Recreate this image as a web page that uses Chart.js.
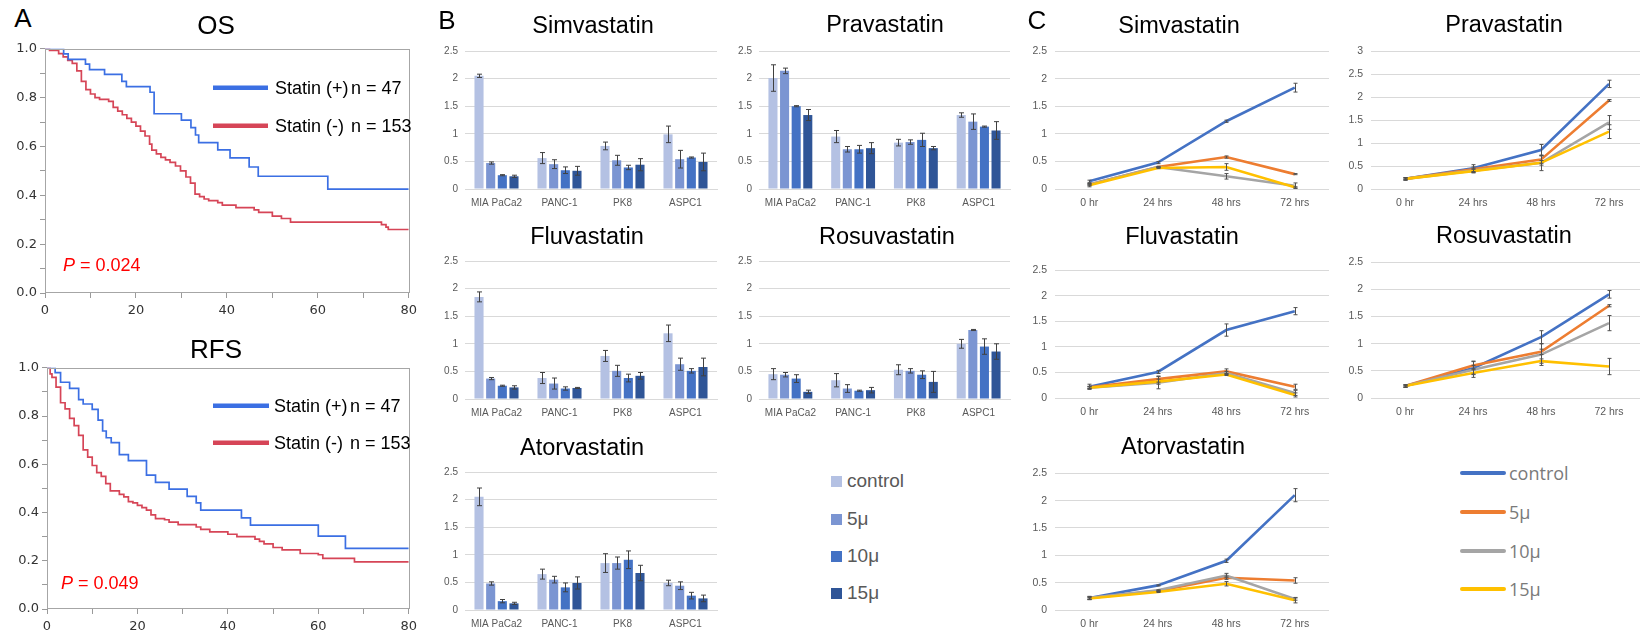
<!DOCTYPE html>
<html>
<head>
<meta charset="utf-8">
<script src="https://cdn.jsdelivr.net/npm/chart.js@4.4.1/dist/chart.umd.min.js"></script>
<style>
  html, body { margin: 0; padding: 0; background: #fff; }
  body { width: 1640px; height: 635px; position: relative; overflow: hidden; font-family: "Liberation Sans", Arial, sans-serif; }
  .box { position: absolute; }
  .txt { position: absolute; white-space: nowrap; color: #000; }
  .legend-row { position: absolute; white-space: nowrap; display: flex; align-items: center; }
</style>
</head>
<body>
<script>
// ---------- data ----------
const cellLines = ['MIA PaCa2', 'PANC-1', 'PK8', 'ASPC1'];
const timePoints = ['0 hr', '24 hrs', '48 hrs', '72 hrs'];
const doses = ['control', '5μ', '10μ', '15μ'];
const barColors = ['#b4c1e3', '#7b95d2', '#4472c4', '#2f5597'];
const lineColors = ['#4472c4', '#ed7d31', '#a5a5a5', '#ffc000'];

// Kaplan-Meier (A)
const kmGroups = ['Statin (+)', 'Statin (-)'];
const kmN = ['n = 47', 'n = 153'];
const kmColors = ['#3b6fe3', '#d64557'];

const osPlusMonths = [0, 4.1, 5.1, 8.9, 9.8, 13.1, 16.9, 17.9, 23.1, 24, 30, 32.1, 33.1, 33.8, 38, 40.7, 44.9, 46.9, 62.2, 80];
const osPlusSurv   = [1.0, 0.979, 0.957, 0.937, 0.915, 0.895, 0.867, 0.845, 0.822, 0.734, 0.708, 0.677, 0.647, 0.616, 0.586, 0.553, 0.516, 0.478, 0.425, 0.425];
const osMinusMonths = [0, 1, 3, 4, 5, 6, 7, 8, 9, 10, 11, 12, 14, 15, 16, 17, 18, 19, 20, 21, 22, 23, 23.5, 24.5, 25.5, 26.5, 27.5, 28.7, 29.8, 31, 32, 33, 34, 35, 36, 38, 39, 42, 46, 47, 50, 52, 54, 74, 75, 75.5, 80];
const osMinusSurv   = [1.0, 0.993, 0.98, 0.967, 0.953, 0.94, 0.91, 0.867, 0.833, 0.815, 0.80, 0.793, 0.785, 0.76, 0.745, 0.73, 0.715, 0.70, 0.683, 0.663, 0.643, 0.61, 0.585, 0.57, 0.555, 0.545, 0.535, 0.52, 0.50, 0.475, 0.45, 0.405, 0.395, 0.385, 0.378, 0.37, 0.36, 0.35, 0.34, 0.33, 0.315, 0.305, 0.29, 0.28, 0.27, 0.26, 0.26];
const osP = '0.024';

const rfsPlusMonths = [0, 1.8, 3, 5, 7, 8, 10, 11.3, 12.3, 13.1, 14.2, 16, 18, 22, 24, 27, 31, 33, 34, 43, 45, 60, 66, 80];
const rfsPlusSurv   = [1.0, 0.98, 0.94, 0.915, 0.868, 0.85, 0.828, 0.783, 0.738, 0.71, 0.69, 0.64, 0.615, 0.555, 0.525, 0.497, 0.467, 0.44, 0.41, 0.378, 0.348, 0.302, 0.251, 0.251];
const rfsMinusMonths = [0, 0.7, 1.1, 2, 3, 4, 5, 6, 7, 8, 9, 10, 11, 12, 13, 14, 16, 17, 18, 19, 20, 21, 22, 23, 24, 26, 27, 29, 33, 34, 36, 40, 42, 46, 47, 48, 50, 52, 56, 60, 61, 68, 80];
const rfsMinusSurv   = [1.0, 0.975, 0.96, 0.92, 0.855, 0.83, 0.79, 0.76, 0.72, 0.66, 0.63, 0.595, 0.565, 0.55, 0.52, 0.49, 0.475, 0.465, 0.445, 0.44, 0.43, 0.42, 0.41, 0.39, 0.375, 0.37, 0.36, 0.35, 0.34, 0.33, 0.32, 0.31, 0.30, 0.29, 0.28, 0.27, 0.255, 0.245, 0.23, 0.225, 0.21, 0.195, 0.195];
const rfsP = '0.049';

// Bar charts (B): rows = dose, columns = cell line
const simvaBarMean = [[2.05, 0.56, 0.78, 0.99], [0.47, 0.45, 0.52, 0.54], [0.25, 0.34, 0.39, 0.57], [0.23, 0.33, 0.44, 0.49]];
const simvaBarErr  = [[0.03, 0.10, 0.07, 0.15], [0.02, 0.08, 0.09, 0.16], [0.01, 0.06, 0.04, 0.01], [0.02, 0.08, 0.11, 0.16]];
const pravaBarMean = [[2.01, 0.95, 0.84, 1.34], [2.14, 0.72, 0.85, 1.22], [1.50, 0.72, 0.89, 1.13], [1.34, 0.74, 0.74, 1.06]];
const pravaBarErr  = [[0.24, 0.11, 0.06, 0.04], [0.05, 0.05, 0.04, 0.14], [0.01, 0.07, 0.12, 0.01], [0.10, 0.10, 0.03, 0.16]];
const fluvaBarMean = [[1.85, 0.38, 0.78, 1.19], [0.37, 0.28, 0.51, 0.63], [0.24, 0.19, 0.38, 0.51], [0.21, 0.20, 0.42, 0.58]];
const fluvaBarErr  = [[0.09, 0.10, 0.10, 0.15], [0.02, 0.10, 0.10, 0.11], [0.01, 0.03, 0.07, 0.04], [0.03, 0.01, 0.06, 0.16]];
const rosuvaBarMean = [[0.45, 0.34, 0.53, 1.00], [0.44, 0.19, 0.51, 1.25], [0.37, 0.15, 0.44, 0.95], [0.13, 0.16, 0.31, 0.86]];
const rosuvaBarErr  = [[0.10, 0.12, 0.09, 0.08], [0.04, 0.07, 0.04, 0.01], [0.07, 0.01, 0.07, 0.14], [0.03, 0.05, 0.19, 0.14]];
const atorvaBarMean = [[2.05, 0.65, 0.85, 0.49], [0.48, 0.55, 0.85, 0.44], [0.16, 0.41, 0.91, 0.26], [0.12, 0.49, 0.67, 0.21]];
const atorvaBarErr  = [[0.16, 0.09, 0.17, 0.05], [0.03, 0.06, 0.11, 0.07], [0.03, 0.08, 0.16, 0.06], [0.02, 0.11, 0.14, 0.06]];

// Line charts (C): rows = dose, columns = time point
const simvaLineMean = [[0.14, 0.48, 1.23, 1.84], [0.08, 0.40, 0.58, 0.27], [0.08, 0.40, 0.23, 0.06], [0.07, 0.38, 0.40, 0.03]];
const simvaLineErr  = [[0.02, 0.02, 0.02, 0.08], [0.01, 0.01, 0.02, 0.01], [0.01, 0.01, 0.05, 0.05], [0.03, 0.01, 0.06, 0.01]];
const pravaLineMean = [[0.22, 0.45, 0.85, 2.29], [0.22, 0.43, 0.64, 1.93], [0.22, 0.40, 0.57, 1.45], [0.22, 0.39, 0.57, 1.25]];
const pravaLineErr  = [[0.03, 0.08, 0.12, 0.08], [0.02, 0.05, 0.08, 0.02], [0.02, 0.04, 0.17, 0.15], [0.02, 0.04, 0.05, 0.15]];
const fluvaLineMean = [[0.22, 0.51, 1.33, 1.70], [0.21, 0.37, 0.52, 0.22], [0.20, 0.30, 0.49, 0.10], [0.20, 0.32, 0.46, 0.06]];
const fluvaLineErr  = [[0.05, 0.03, 0.12, 0.07], [0.02, 0.06, 0.05, 0.05], [0.02, 0.12, 0.03, 0.05], [0.02, 0.05, 0.02, 0.04]];
const rosuvaLineMean = [[0.22, 0.55, 1.12, 1.91], [0.22, 0.60, 0.85, 1.70], [0.22, 0.52, 0.80, 1.38], [0.22, 0.46, 0.68, 0.58]];
const rosuvaLineErr  = [[0.02, 0.12, 0.12, 0.07], [0.02, 0.08, 0.05, 0.02], [0.02, 0.08, 0.20, 0.14], [0.02, 0.08, 0.04, 0.15]];
const atorvaLineMean = [[0.22, 0.45, 0.90, 2.10], [0.22, 0.35, 0.59, 0.54], [0.22, 0.36, 0.63, 0.20], [0.21, 0.33, 0.48, 0.18]];
const atorvaLineErr  = [[0.03, 0.01, 0.03, 0.12], [0.02, 0.01, 0.03, 0.05], [0.02, 0.01, 0.04, 0.02], [0.02, 0.01, 0.04, 0.05]];

// ---------- helpers ----------
const SANS = '"Liberation Sans", Arial, sans-serif';

function mount(left, top, width, height) {
  const d = document.createElement('div');
  d.className = 'box';
  d.style.cssText = `left:${left}px;top:${top}px;width:${width}px;height:${height}px;`;
  const c = document.createElement('canvas');
  d.appendChild(c);
  document.body.appendChild(d);
  return c;
}

// centred text (title / panel letter)
function text(str, cx, cy, size, bg) {
  const d = document.createElement('div');
  d.className = 'txt';
  d.textContent = str;
  d.style.fontSize = size + 'px';
  d.style.lineHeight = size + 'px';
  d.style.top = (cy - size / 2) + 'px';
  d.style.left = (cx - 200) + 'px';
  d.style.width = '400px';
  d.style.textAlign = 'center';
  document.body.appendChild(d);
  if (bg) {
    const b = document.createElement('div');
    b.style.cssText = `position:absolute;background:#fff;left:${bg.l}px;top:${bg.t}px;width:${bg.w}px;height:${bg.h}px;`;
    document.body.insertBefore(b, d);
  }
}

// error bars through the chart's own y scale
const errorBars = {
  id: 'errorBars',
  afterDatasetsDraw(chart, args, o) {
    const ctx = chart.ctx, ys = chart.scales.y;
    chart.data.datasets.forEach((ds, di) => {
      if (!ds.errors) return;
      chart.getDatasetMeta(di).data.forEach((el, i) => {
        const v = ds.data[i], e = ds.errors[i];
        const x = Math.round(el.x) + 0.5;
        const y1 = ys.getPixelForValue(v + e), y2 = ys.getPixelForValue(v - e);
        ctx.save();
        ctx.strokeStyle = o.color || '#404040';
        ctx.lineWidth = 1;
        ctx.beginPath();
        ctx.moveTo(x, y1); ctx.lineTo(x, y2);
        ctx.moveTo(x - o.cap, y1); ctx.lineTo(x + o.cap, y1);
        ctx.moveTo(x - o.cap, y2); ctx.lineTo(x + o.cap, y2);
        ctx.stroke();
        ctx.restore();
      });
    });
  }
};

// frame, legend and P value of the survival plots
const kmDecor = {
  id: 'kmDecor',
  afterDraw(chart, args, o) {
    const { ctx, chartArea: a } = chart;
    ctx.save();
    ctx.strokeStyle = '#a6a6a6';
    ctx.lineWidth = 1;
    ctx.strokeRect(Math.round(a.left) + 0.5, Math.round(a.top) + 0.5, Math.round(a.right - a.left), Math.round(a.bottom - a.top) - 1);
    chart.data.datasets.forEach((ds, i) => {
      const y = a.top + o.legendY + i * o.legendGap;
      ctx.strokeStyle = ds.borderColor;
      ctx.lineWidth = 4.5;
      ctx.beginPath();
      ctx.moveTo(a.left + o.lineX0, y);
      ctx.lineTo(a.left + o.lineX1, y);
      ctx.stroke();
      ctx.fillStyle = '#000';
      ctx.font = '18px ' + SANS;
      ctx.textBaseline = 'middle';
      ctx.fillText(ds.label, a.left + o.textX, y + 1);
      ctx.fillText(kmN[i], a.left + o.nX, y + 1);
    });
    const px = a.left + o.pX, py = a.bottom - o.pY;
    ctx.fillStyle = '#ff0000';
    ctx.textBaseline = 'middle';
    ctx.font = 'italic 18px ' + SANS;
    ctx.fillText('P', px, py);
    const w = ctx.measureText('P').width;
    ctx.font = '18px ' + SANS;
    ctx.fillText(' = ' + o.p, px + w, py);
    ctx.restore();
  }
};

function kmChart(plot, plus, minus, decor) {
  const padTop = 8, padRight = 10, xAxisH = 26;
  const left = 0;
  const yAxisW = plot.l - left;
  const top = plot.t - padTop;
  const canvas = mount(left, top, plot.r + padRight - left, plot.b + xAxisH - top);
  const toXY = (t, s) => t.map((v, i) => ({ x: v, y: s[i] }));
  new Chart(canvas, {
    type: 'line',
    data: {
      datasets: [
        { label: kmGroups[0], data: toXY(plus[0], plus[1]), borderColor: kmColors[0], borderWidth: 1.7, stepped: 'before', pointRadius: 0, fill: false },
        { label: kmGroups[1], data: toXY(minus[0], minus[1]), borderColor: kmColors[1], borderWidth: 1.7, stepped: 'before', pointRadius: 0, fill: false },
      ]
    },
    plugins: [kmDecor],
    options: {
      responsive: true, maintainAspectRatio: false, animation: false,
      layout: { padding: { top: padTop, right: padRight, left: 0, bottom: 0 } },
      plugins: { legend: { display: false }, tooltip: { enabled: false }, kmDecor: decor },
      scales: {
        x: {
          type: 'linear', min: 0, max: 80,
          afterFit: s => { s.height = xAxisH; },
          grid: { drawOnChartArea: false, drawTicks: true, tickLength: 5, color: '#9a9a9a' },
          border: { display: false },
          ticks: { stepSize: 10, autoSkip: false, maxRotation: 0, padding: 5, color: '#333', font: { family: '"DejaVu Sans"', size: 13 },
                   callback: v => (v % 20 === 0 ? String(v) : '') }
        },
        y: {
          min: 0, max: 1,
          afterFit: s => { s.width = yAxisW; },
          grid: { drawOnChartArea: false, drawTicks: true, tickLength: 5, color: '#9a9a9a' },
          border: { display: false },
          ticks: { stepSize: 0.1, autoSkip: false, padding: 3, color: '#333', font: { family: '"DejaVu Sans"', size: 13 },
                   callback: v => (Math.round(v * 10) % 2 === 0 ? v.toFixed(1) : '') }
        }
      }
    }
  });
}

function axisCommon(yMax, yAxisW, xAxisH, yPad, fontSize) {
  return {
    x: {
      afterFit: s => { s.height = xAxisH; },
      grid: { display: false, drawTicks: false },
      border: { display: true, color: '#d9d9d9' },
      ticks: { padding: 8, autoSkip: false, maxRotation: 0, color: '#595959', font: { family: SANS, size: fontSize } }
    },
    y: {
      min: 0, max: yMax,
      afterFit: s => { s.width = yAxisW; },
      grid: { color: '#d9d9d9', drawTicks: false },
      border: { display: false },
      ticks: { stepSize: 0.5, padding: yPad, color: '#595959', font: { family: SANS, size: fontSize },
               callback: v => String(+v.toFixed(2)) }
    }
  };
}

function barChart(plot, mean, err) {
  const padTop = 8, yAxisW = 30, xAxisH = 22, padRight = 2;
  const left = plot.l - yAxisW, top = plot.t - padTop;
  const canvas = mount(left, top, plot.r + padRight - left, plot.b + xAxisH - top);
  new Chart(canvas, {
    type: 'bar',
    data: {
      labels: cellLines,
      datasets: doses.map((d, i) => ({
        label: d, data: mean[i], errors: err[i], backgroundColor: barColors[i],
        categoryPercentage: 0.74, barPercentage: 0.78
      }))
    },
    plugins: [errorBars],
    options: {
      responsive: true, maintainAspectRatio: false, animation: false,
      layout: { padding: { top: padTop, right: padRight, left: 0, bottom: 0 } },
      plugins: { legend: { display: false }, tooltip: { enabled: false }, errorBars: { cap: 2.5, color: '#404040' } },
      scales: axisCommon(2.5, yAxisW, xAxisH, 7, 10)
    }
  });
}

function lineChart(plot, mean, err, yMax) {
  const padTop = 8, yAxisW = 30, xAxisH = 22, padRight = 0;
  const left = plot.l - yAxisW, top = plot.t - padTop;
  const canvas = mount(left, top, plot.r + padRight - left, plot.b + xAxisH - top);
  const scales = axisCommon(yMax, yAxisW, xAxisH, 8, 10.5);
  scales.x.offset = true;
  new Chart(canvas, {
    type: 'line',
    data: {
      labels: timePoints,
      datasets: doses.map((d, i) => ({
        label: d, data: mean[i], errors: err[i], borderColor: lineColors[i],
        borderWidth: 2.6, pointRadius: 0, tension: 0, fill: false, order: 3 - i
      }))
    },
    plugins: [errorBars],
    options: {
      responsive: true, maintainAspectRatio: false, animation: false,
      layout: { padding: { top: padTop, right: padRight, left: 0, bottom: 0 } },
      plugins: { legend: { display: false }, tooltip: { enabled: false }, errorBars: { cap: 2, color: '#505050' } },
      scales
    }
  });
}

// ---------- panel A ----------
kmChart({ l: 45, t: 46, r: 412, b: 293 }, [osPlusMonths, osPlusSurv], [osMinusMonths, osMinusSurv],
  { legendY: 39, legendGap: 38, lineX0: 168, lineX1: 223, textX: 230, nX: 306, pX: 18, pY: 27, p: osP });
kmChart({ l: 47, t: 365, r: 412, b: 609 }, [rfsPlusMonths, rfsPlusSurv], [rfsMinusMonths, rfsMinusSurv],
  { legendY: 38, legendGap: 37, lineX0: 166, lineX1: 222, textX: 227, nX: 303, pX: 14, pY: 25, p: rfsP });

// ---------- panel B ----------
barChart({ l: 465, t: 46, r: 717, b: 189 }, simvaBarMean, simvaBarErr);
barChart({ l: 759, t: 46, r: 1010, b: 189 }, pravaBarMean, pravaBarErr);
barChart({ l: 465, t: 256, r: 717, b: 399 }, fluvaBarMean, fluvaBarErr);
barChart({ l: 759, t: 256, r: 1010, b: 399 }, rosuvaBarMean, rosuvaBarErr);
barChart({ l: 465, t: 467, r: 717, b: 610 }, atorvaBarMean, atorvaBarErr);

// ---------- panel C ----------
lineChart({ l: 1055, t: 45, r: 1329, b: 189 }, simvaLineMean, simvaLineErr, 2.5);
lineChart({ l: 1371, t: 45, r: 1643, b: 189 }, pravaLineMean, pravaLineErr, 3);
lineChart({ l: 1055, t: 264, r: 1329, b: 398 }, fluvaLineMean, fluvaLineErr, 2.5);
lineChart({ l: 1371, t: 256, r: 1643, b: 398 }, rosuvaLineMean, rosuvaLineErr, 2.5);
lineChart({ l: 1055, t: 467, r: 1329, b: 610 }, atorvaLineMean, atorvaLineErr, 2.5);

// ---------- titles and panel letters ----------
text('A', 23, 18, 26);
text('B', 447, 20, 26);
text('C', 1037, 20, 26);
text('OS', 216, 25, 26);
text('RFS', 216, 349, 26);
text('Simvastatin', 593, 26, 23.5);
text('Pravastatin', 885, 25, 23.5);
text('Fluvastatin', 587, 237, 23.5);
text('Rosuvastatin', 887, 237, 23.5);
text('Atorvastatin', 582, 448, 23.5);
text('Simvastatin', 1179, 26, 23.5);
text('Pravastatin', 1504, 25, 23.5);
text('Fluvastatin', 1182, 237, 23.5, { l: 1115, t: 222, w: 135, h: 45 });
text('Rosuvastatin', 1504, 236, 23.5);
text('Atorvastatin', 1183, 447, 23.5);

// ---------- legends ----------
const barLegendY = [481, 519, 556, 593];
doses.forEach((d, i) => {
  const r = document.createElement('div');
  r.className = 'legend-row';
  r.style.cssText += `left:831px;top:${barLegendY[i] - 12}px;height:24px;font-size:19px;color:#595959;`;
  r.innerHTML = `<span style="display:inline-block;width:11px;height:11px;background:${barColors[i]};margin-right:5px;"></span><span>${d}</span>`;
  document.body.appendChild(r);
});
const lineLegendY = [473, 512, 551, 589];
doses.forEach((d, i) => {
  const r = document.createElement('div');
  r.className = 'legend-row';
  r.style.cssText += `left:1460px;top:${lineLegendY[i] - 13}px;height:26px;font-size:18px;color:#7a7a7a;font-family:'Open Sans',sans-serif;`;
  r.innerHTML = `<span style="display:inline-block;width:46px;height:4.5px;border-radius:3px;background:${lineColors[i]};margin-right:3px;"></span><span>${d}</span>`;
  document.body.appendChild(r);
});
</script>
</body>
</html>
